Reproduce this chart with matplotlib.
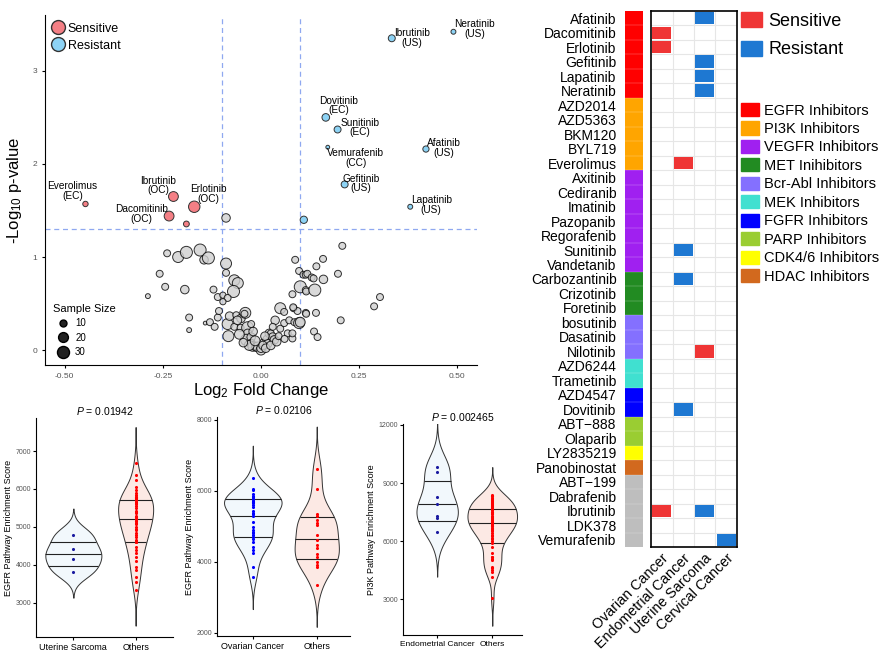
import numpy as np
import matplotlib.pyplot as plt
from matplotlib.lines import Line2D
from matplotlib.patches import Patch
from matplotlib.colors import ListedColormap

plt.rcParams['font.family'] = ['Liberation Sans', 'DejaVu Sans']
plt.rcParams['mathtext.fontset'] = 'custom'
plt.rcParams['mathtext.rm'] = 'Liberation Sans'
plt.rcParams['mathtext.it'] = 'Liberation Sans:italic'

# ---------------- volcano data ----------------
# highlighted drugs: log2 fold change, -log10 p, sample size, response
hl_names = ["Everolimus\n(EC)", "Ibrutinib\n(OC)", "Erlotinib\n(OC)", "Dacomitinib\n(OC)", "",
            "Gefitinib\n(US)", "Lapatinib\n(US)", "Ibrutinib\n(US)", "Neratinib\n(US)",
            "Dovitinib\n(EC)", "Sunitinib\n(EC)", "Vemurafenib\n(CC)", "Afatinib\n(US)", ""]
hl_fc = [-0.447, -0.223, -0.170, -0.234, -0.190, 0.213, 0.380, 0.333, 0.490, 0.165, 0.195, 0.170, 0.420, 0.109]
hl_p = [1.57, 1.65, 1.54, 1.44, 1.355, 1.78, 1.54, 3.35, 3.42, 2.50, 2.37, 2.18, 2.16, 1.40]
hl_n = [6, 20, 27, 20, 7, 10, 5, 10, 5, 12, 10, 3, 8, 11]
hl_type = ["S", "S", "S", "S", "S", "R", "R", "R", "R", "R", "R", "R", "R", "R"]
# label offsets in pixels (right, up)
hl_dx = [-13, -15, 14, -28, 0, 16, 21, 20, 21, 13, 22, 28, 18, 0]
hl_dy = [13, 11, 13, 2, 0, 1, 2, 0, 3, 12, 2, -11, 1, 0]

gray_fc = [-0.089, -0.239, -0.211, -0.190, -0.155, -0.145, -0.134, -0.089, -0.089, -0.068, -0.059, -0.070,
           -0.258, -0.244, -0.194, -0.288, -0.121, -0.110, -0.097, -0.085, -0.097, -0.183, -0.183, -0.142,
           -0.130, -0.118, -0.110, -0.107, -0.085, -0.083, -0.080, -0.063, -0.051, -0.040, -0.068, -0.052,
           -0.034, -0.034, -0.038, -0.025, -0.025, -0.021, -0.013, -0.008, 0.000, 0.000, 0.008, 0.017,
           0.017, 0.021, 0.025, 0.030, 0.034, 0.036, 0.049, 0.049, 0.059, 0.059, 0.068, 0.080, 0.080,
           0.072, 0.085, 0.097, 0.100, 0.083, 0.093, 0.082, 0.114, 0.115, 0.140, 0.135, 0.144, 0.203,
           0.288, 0.303, 0.080, 0.087, 0.097, 0.108, 0.114, 0.118, 0.129, 0.134, 0.159, 0.100, 0.114,
           0.115, 0.137, 0.141, 0.158, 0.196, 0.207, -0.042, -0.030, -0.015, 0.005, 0.012, 0.025, 0.040,
           -0.045, 0.045, -0.020, 0.010, 0.030, 0.060, -0.055, -0.060, -0.025]
gray_p = [1.42, 1.04, 1.00, 1.05, 1.075, 0.97, 0.99, 0.93, 0.83, 0.75, 0.72, 0.63,
          0.82, 0.68, 0.65, 0.58, 0.65, 0.57, 0.59, 0.56, 0.52, 0.35, 0.215, 0.29,
          0.30, 0.25, 0.35, 0.42, 0.28, 0.15, 0.365, 0.375, 0.34, 0.40, 0.25, 0.24,
          0.24, 0.18, 0.11, 0.14, 0.07, 0.04, 0.035, 0.035, 0.00, 0.02, 0.07, 0.11,
          0.07, 0.18, 0.18, 0.14, 0.11, 0.32, 0.45, 0.23, 0.41, 0.29, 0.18, 0.125, 0.18,
          0.32, 0.30, 0.29, 0.30, 0.45, 0.42, 0.46, 0.40, 0.39, 0.40, 0.20, 0.14, 0.32,
          0.47, 0.57, 0.60, 0.97, 0.85, 0.81, 0.81, 0.82, 0.78, 0.77, 0.76, 0.68, 0.645,
          0.63, 0.645, 0.90, 0.98, 0.82, 1.12, 0.39, 0.05, 0.10, 0.05, 0.02, 0.05, 0.09,
          0.08, 0.15, 0.20, 0.15, 0.25, 0.12, 0.17, 0.32, 0.28]
gray_n = [15, 10, 25, 30, 30, 15, 30, 25, 10, 25, 25, 30,
          10, 10, 15, 5, 10, 10, 8, 10, 8, 10, 5, 3,
          10, 10, 10, 10, 25, 25, 15, 10, 15, 25, 10, 10,
          30, 15, 25, 15, 15, 20, 15, 20, 20, 15, 20, 20,
          15, 15, 10, 15, 15, 15, 25, 10, 10, 10, 10, 10, 10,
          10, 10, 25, 20, 10, 10, 10, 10, 10, 10, 10, 10, 10,
          10, 10, 10, 10, 10, 10, 10, 10, 10, 10, 15, 30, 10,
          10, 30, 10, 10, 10, 10, 10, 20, 20, 15, 15, 15, 15,
          15, 10, 15, 15, 10, 10, 20, 15, 10]

# ---------------- violin data ----------------
v1_groups = ["Uterine Sarcoma", "Others"]
v1_a = [4800, 4420, 4150, 3820]
v1_b = [6690, 6370, 6240, 6060, 5970, 5900, 5840, 5800, 5780, 5750, 5750, 5710, 5700, 5650, 5620, 5600,
        5550, 5490, 5430, 5400, 5360, 5300, 5270, 5250, 5200, 5160, 5150, 5100, 5080, 5010, 4950, 4920,
        4850, 4800, 4740, 4660, 4600, 4590, 4480, 4390, 4310, 4220, 4090, 3950, 3870, 3690, 3560, 3340]
v1_p = "0.01942"

v2_groups = ["Ovarian Cancer", "Others"]
v2_a = [6358, 6048, 6028, 5900, 5859, 5822, 5780, 5765, 5720, 5700, 5680, 5653, 5606, 5559, 5446, 5390,
        5352, 5296, 5136, 4995, 4902, 4855, 4808, 4761, 4714, 4650, 4573, 4432, 4338, 4245, 3868, 3587]
v2_b = [6629, 6057, 5352, 5296, 5183, 5090, 5042, 4761, 4620, 4479, 4385, 4225, 4150, 4009, 3915, 3868, 3352]
v2_p = "0.02106"

v3_groups = ["Endometrial Cancer", "Others"]
v3_a = [9850, 9550, 8300, 7900, 7300, 7200, 6450]
v3_b = [8400, 8350, 8313, 8250, 8194, 8100, 8050, 8020, 7950, 7901, 7850, 7800, 7763, 7700, 7650, 7629,
        7505, 7500, 7450, 7387, 7300, 7248, 7200, 7150, 7115, 7050, 7000, 6991, 6950, 6909, 6850, 6800,
        6770, 6700, 6651, 6600, 6528, 6394, 6300, 6256, 6137, 6100, 6013, 5880, 5705, 5366, 5200, 5191,
        5100, 5021, 4677, 4600, 4507, 4419, 4162, 3051]
v3_p = "0.002465"

# ---------------- heatmap data ----------------
drugs = ["Afatinib", "Dacomitinib", "Erlotinib", "Gefitinib", "Lapatinib", "Neratinib",
         "AZD2014", "AZD5363", "BKM120", "BYL719", "Everolimus",
         "Axitinib", "Cediranib", "Imatinib", "Pazopanib", "Regorafenib", "Sunitinib", "Vandetanib",
         "Carbozantinib", "Crizotinib", "Foretinib",
         "bosutinib", "Dasatinib", "Nilotinib",
         "AZD6244", "Trametinib", "AZD4547", "Dovitinib", "ABT−888", "Olaparib",
         "LY2835219", "Panobinostat", "ABT−199", "Dabrafenib", "Ibrutinib", "LDK378", "Vemurafenib"]
classes = ["EGFR Inhibitors", "PI3K Inhibitors", "VEGFR Inhibitors", "MET Inihibitors", "Bcr-Abl Inhibitors",
           "MEK Inhibitors", "FGFR Inhibitors", "PARP Inhibitors", "CDK4/6 Inhibitors", "HDAC Inhibitors", "Other"]
class_counts = [6, 5, 7, 3, 3, 2, 2, 2, 1, 1, 5]
class_colors = ["#FF0000", "#FFA500", "#A020F0", "#228B22", "#8470FF", "#40E0D0",
                "#0000FF", "#9ACD32", "#FFFF00", "#D2691E", "#BEBEBE"]
cancers = ["Ovarian Cancer", "Endometrial Cancer", "Uterine Sarcoma", "Cervical Cancer"]
# (drug, cancer, response)
hits = [("Afatinib", "Uterine Sarcoma", "R"), ("Dacomitinib", "Ovarian Cancer", "S"),
        ("Erlotinib", "Ovarian Cancer", "S"), ("Gefitinib", "Uterine Sarcoma", "R"),
        ("Lapatinib", "Uterine Sarcoma", "R"), ("Neratinib", "Uterine Sarcoma", "R"),
        ("Everolimus", "Endometrial Cancer", "S"), ("Sunitinib", "Endometrial Cancer", "R"),
        ("Carbozantinib", "Endometrial Cancer", "R"), ("Nilotinib", "Uterine Sarcoma", "S"),
        ("Dovitinib", "Endometrial Cancer", "R"), ("Ibrutinib", "Ovarian Cancer", "S"),
        ("Ibrutinib", "Uterine Sarcoma", "R"), ("Vemurafenib", "Cervical Cancer", "R")]

# ------------------------------------------------------------------
W, H = 883, 663
fig = plt.figure(figsize=(W / 100, H / 100), dpi=100)


def px_axes(l, t, r, b):
    return fig.add_axes([l / W, 1 - b / H, (r - l) / W, (b - t) / H])


# ---------------- volcano ----------------
ax = px_axes(45, 15, 477, 365)
col_map = {"S": "#F47F85", "R": "#8DD3F5"}
ax.axhline(-np.log10(0.05), color="#8FA8F0", ls=(0, (4, 3)), lw=0.9, zorder=1)
ax.axvline(-0.1, color="#8FA8F0", ls=(0, (4, 3)), lw=0.9, zorder=1)
ax.axvline(0.1, color="#8FA8F0", ls=(0, (4, 3)), lw=0.9, zorder=1)
ax.scatter(gray_fc, gray_p, s=np.array(gray_n) * 2.5, facecolor="#D0D0D0", edgecolor="black",
           linewidth=0.7, alpha=0.8, zorder=2)
ax.scatter(hl_fc, hl_p, s=np.array(hl_n) * 2.5, facecolor=[col_map[t] for t in hl_type],
           edgecolor="#333333", linewidth=0.7, zorder=3)
for name, x, y, dx, dy in zip(hl_names, hl_fc, hl_p, hl_dx, hl_dy):
    if name:
        ax.annotate(name, (x, y), xytext=(dx * 0.72, dy * 0.72), textcoords="offset points",
                    ha="center", va="center", fontsize=7.3, linespacing=0.95)
ax.set_xlim(-0.55, 0.55)
ax.set_ylim(-0.16, 3.6)
ax.set_xticks([-0.5, -0.25, 0, 0.25, 0.5])
ax.set_xticklabels(["-0.50", "-0.25", "0.00", "0.25", "0.50"])
ax.set_yticks([0, 1, 2, 3])
ax.tick_params(labelsize=6, labelcolor="#555555", length=2)
for s in ["top", "right"]:
    ax.spines[s].set_visible(False)
ax.set_xlabel("Log$_2$ Fold Change", fontsize=12, labelpad=1)
ax.set_ylabel("-Log$_{10}$ p-value", fontsize=12, labelpad=6)

resp_handles = [Line2D([], [], marker="o", ls="", markersize=10, mfc=col_map["S"], mec="#333333"),
                Line2D([], [], marker="o", ls="", markersize=10, mfc=col_map["R"], mec="#333333")]
leg1 = ax.legend(resp_handles, ["Sensitive", "Resistant"], loc="upper left", bbox_to_anchor=(-0.013, 1.003),
                 frameon=False, fontsize=9, handlelength=1.5, handletextpad=0.05, labelspacing=0.4,
                 borderpad=0.2)
ax.add_artist(leg1)
size_handles = [Line2D([], [], marker="o", ls="", markersize=np.sqrt(n * 2.5), mfc="#222222", mec="black")
                for n in [10, 20, 30]]
ax.legend(size_handles, ["10", "20", "30"], title="Sample Size", loc="lower left",
          bbox_to_anchor=(0.0, 0.0), frameon=False, fontsize=7, title_fontsize=8,
          handletextpad=0.3, labelspacing=0.45, borderpad=0.3, alignment="left")


# ---------------- violins ----------------
def violin_density(vals):
    v = np.asarray(vals, float)
    n = len(v)
    sd = v.std(ddof=1)
    iqr = np.subtract(*np.percentile(v, [75, 25]))
    bw = 0.9 * min(sd, iqr / 1.34 if iqr > 0 else sd) * n ** -0.2
    y = np.linspace(v.min() - 3 * bw, v.max() + 3 * bw, 256)
    d = np.exp(-0.5 * ((y[:, None] - v[None, :]) / bw) ** 2).sum(1) / (n * bw * np.sqrt(2 * np.pi))
    return y, d


def violin_panel(box, groups, a, b, pval, ylabel, yticks, ylim, xlim, pt_col_a, xfs=6.5):
    axv = px_axes(*box)
    dens = [violin_density(a), violin_density(b)]
    scale = 0.45 / max(d.max() for _, d in dens)
    fills = ["#F2F8FC", "#FCE9E4"]
    pcols = [pt_col_a, "#FF0000"]
    for i, ((y, d), vals) in enumerate(zip(dens, [a, b])):
        pos = i + 1
        w = d * scale
        axv.fill_betweenx(y, pos - w, pos + w, facecolor=fills[i], edgecolor="#333333", lw=0.7, zorder=1)
        cdf = np.cumsum(d)
        cdf = cdf / cdf[-1]
        q = np.interp([0.25, 0.5, 0.75], cdf, y)
        qw = np.interp(q, y, w)
        axv.hlines(q, pos - qw, pos + qw, color="#222222", lw=0.8, zorder=2)
        axv.scatter([pos] * len(vals), vals, s=5, color=pcols[i], zorder=3, linewidths=0)
    axv.set_xlim(*xlim)
    axv.set_ylim(*ylim)
    axv.set_xticks([1, 2])
    axv.set_xticklabels(groups, fontsize=xfs)
    axv.set_yticks(yticks)
    axv.tick_params(axis="y", labelsize=5, labelcolor="#555555", length=2, pad=1.5)
    axv.tick_params(axis="x", length=2, pad=2)
    for s in ["top", "right"]:
        axv.spines[s].set_visible(False)
    axv.set_ylabel(ylabel, fontsize=6.5, labelpad=2)
    axv.set_title("$P$ = " + pval, fontsize=7.5, pad=2)
    return axv


violin_panel((36, 418, 173, 637), v1_groups, v1_a, v1_b, v1_p, "EGFR Pathway Enrichment Score",
             [3000, 4000, 5000, 6000, 7000], (2100, 7870), (0.4, 2.6), "#1A1AA0")
violin_panel((217, 417, 350, 636), v2_groups, v2_a, v2_b, v2_p, "EGFR Pathway Enrichment Score",
             [2000, 4000, 6000, 8000], (1915, 8080), (0.44, 2.52), "#0000FF")
violin_panel((403, 424, 522, 635), v3_groups, v3_a, v3_b, v3_p, "PI3K Pathway Enrichment Score",
             [3000, 6000, 9000, 12000], (1150, 12050), (0.38, 2.54), "#1A1AA0", xfs=6)

# ---------------- class strip ----------------
n_rows = len(drugs)
class_idx = np.repeat(np.arange(len(classes)), class_counts)
axs = px_axes(625, 11, 643, 547)
axs.imshow(class_idx[:, None], cmap=ListedColormap(class_colors), aspect="auto",
           extent=(-0.5, 0.5, n_rows - 0.5, -0.5), vmin=-0.5, vmax=len(classes) - 0.5,
           interpolation="nearest")
for r in range(1, n_rows):
    axs.axhline(r - 0.5, color="white", lw=0.3, alpha=0.5)
axs.set_xticks([])
axs.set_yticks(range(n_rows))
axs.set_yticklabels(drugs, fontsize=10)
axs.tick_params(axis="y", length=0, pad=6)
for s in axs.spines.values():
    s.set_visible(False)

# ---------------- heatmap ----------------
axh = px_axes(651, 11, 737, 547)
axh.set_xlim(-0.5, len(cancers) - 0.5)
axh.set_ylim(n_rows - 0.5, -0.5)
for r in range(1, n_rows):
    axh.axhline(r - 0.5, color="#E6E6E6", lw=0.8, zorder=0)
for c in range(1, len(cancers)):
    axh.axvline(c - 0.5, color="#E6E6E6", lw=0.8, zorder=0)
hit_col = {"S": "#EF3535", "R": "#1E78D2"}
for drug, cancer, resp in hits:
    axh.barh(drugs.index(drug), 0.88, left=cancers.index(cancer) - 0.44, height=0.86,
             color=hit_col[resp], zorder=2)
axh.set_yticks([])
axh.set_xticks(range(len(cancers)))
axh.set_xticklabels(cancers, rotation=45, ha="right", rotation_mode="anchor", fontsize=10.3)
axh.tick_params(axis="x", length=0, pad=3)
for s in axh.spines.values():
    s.set_linewidth(1.2)
    s.set_color("black")

fig.legend([Patch(color=hit_col["S"]), Patch(color=hit_col["R"])], ["Sensitive", "Resistant"],
           loc="upper left", bbox_to_anchor=(741 / W, 1 - 12 / H), frameon=False, fontsize=13,
           handlelength=1.15, handleheight=0.9, handletextpad=0.35, labelspacing=0.6, borderpad=0,
           borderaxespad=0)
fig.legend([Patch(color=c) for c in class_colors[:-1]], classes[:-1],
           loc="upper left", bbox_to_anchor=(741 / W, 1 - 103 / H), frameon=False, fontsize=10.5,
           handlelength=1.2, handleheight=1.0, handletextpad=0.35, labelspacing=0.27, borderpad=0,
           borderaxespad=0)

fig.savefig("out.png", dpi=100)
